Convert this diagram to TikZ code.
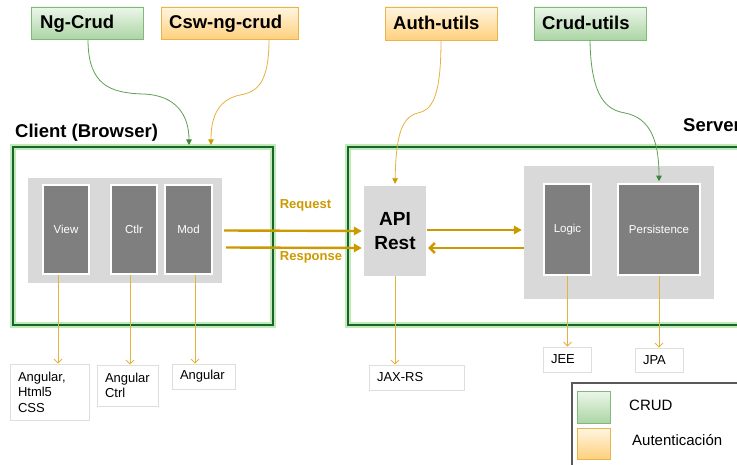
\documentclass[tikz,border=0pt]{standalone}
\usepackage{fontspec}
\setmainfont{Liberation Sans}
\usetikzlibrary{arrows.meta}
\definecolor{crudtop}{RGB}{236,246,234}
\definecolor{crudbot}{RGB}{172,213,165}
\definecolor{crudborder}{RGB}{128,186,122}
\definecolor{authtop}{RGB}{255,246,226}
\definecolor{authbot}{RGB}{255,208,125}
\definecolor{authborder}{RGB}{232,180,76}
\definecolor{zonegreen}{RGB}{22,102,42}
\definecolor{glowgreen}{RGB}{194,234,184}
\definecolor{panelgray}{RGB}{217,217,217}
\definecolor{layergray}{RGB}{127,127,127}
\definecolor{techborder}{RGB}{222,222,222}
\definecolor{gold}{RGB}{204,153,0}
\definecolor{thinorange}{RGB}{228,178,62}
\definecolor{curvegreen}{RGB}{96,160,84}
\definecolor{tipgreen}{RGB}{60,135,55}
\definecolor{legendgray}{RGB}{90,90,90}
\begin{document}
\begin{tikzpicture}[x=1pt,y=-1pt,
  tag/.style={line width=0.8pt, font=\fontsize{18.5}{22}\selectfont\bfseries, inner xsep=8pt, inner ysep=0pt,
    text height=13.5pt, text depth=3.5pt},
  crudtag/.style={tag, draw=crudborder, top color=crudtop, bottom color=crudbot},
  authtag/.style={tag, draw=authborder, top color=authtop, bottom color=authbot},
  zone/.style={draw=zonegreen, line width=2.6pt, preaction={draw=glowgreen, line width=6pt}},
  panel/.style={fill=panelgray, draw=none, inner sep=0pt},
  layer/.style={fill=layergray, draw=white, line width=1.5pt, text=white, inner sep=0pt,
    font=\fontsize{11.5}{13}\selectfont},
  tech/.style={draw=techborder, line width=0.8pt, align=left, inner xsep=8pt, inner ysep=0pt,
    font=\fontsize{13}{15.5}\selectfont},
  thinarrow/.style={draw=thinorange, line width=0.8pt, -{Straight Barb[length=4pt,width=8pt]}},
  greencurve/.style={draw=curvegreen, line width=0.8pt, -{Triangle[length=5.5pt,width=5.5pt,color=tipgreen]}},
  orangecurve/.style={draw=thinorange, line width=0.8pt, -{Triangle[length=5.5pt,width=5.5pt,color=gold]}},
  flow/.style={draw=gold, line width=2.4pt, -{Triangle[length=8pt,width=8.5pt]}},
  flowback/.style={draw=gold, line width=2.4pt, -{Straight Barb[length=5pt,width=10pt]}},
  flowlabel/.style={text=gold, font=\fontsize{13}{15}\selectfont\bfseries, inner sep=0pt},
  zonelabel/.style={font=\fontsize{18.5}{22}\selectfont\bfseries, inner sep=0pt}
]
\useasboundingbox (0,0) rectangle (737,465);

% top tags
\node[crudtag, minimum width=112pt, minimum height=32pt] (ngcrud) at (87,23) {};
\node[anchor=base west, font=\fontsize{18.5}{22}\selectfont\bfseries, inner sep=0pt] (ngcrudtxt) at (40,29) {Ng-Crud};
\node[authtag, minimum width=137pt, minimum height=32pt] (csw) at (229.5,23) {};
\node[anchor=base west, font=\fontsize{18.5}{22}\selectfont\bfseries, inner sep=0pt] (cswtxt) at (169,29) {Csw-ng-crud};
\node[authtag, minimum width=112pt, minimum height=33pt] (auth) at (441,23.5) {};
\node[anchor=base west, font=\fontsize{18.5}{22}\selectfont\bfseries, inner sep=0pt] (authtxt) at (393,30) {Auth-utils};
\node[crudtag, minimum width=112pt, minimum height=33pt] (crudu) at (590,23.5) {};
\node[anchor=base west, font=\fontsize{18.5}{22}\selectfont\bfseries, inner sep=0pt] (crudutxt) at (542,30) {Crud-utils};

% zone labels
\node[zonelabel, anchor=base west] (clientlbl) at (15,138) {Client (Browser)};
\node[zonelabel, anchor=base west] (serverlbl) at (683,132) {Server};

% zones
\node[zone, minimum width=260pt, minimum height=178pt, inner sep=0pt] (client) at (143,236) {};
\node[zone, minimum width=412pt, minimum height=178pt, inner sep=0pt] (server) at (554,236) {};

% client panel
\node[panel, minimum width=194pt, minimum height=105pt] (cpanel) at (125,230.5) {};
\node[layer, minimum width=46pt, minimum height=89pt] (view) at (66,229.5) {View};
\node[layer, minimum width=46pt, minimum height=89pt] (ctlr) at (134,229.5) {Ctlr};
\node[layer, minimum width=47pt, minimum height=89pt] (mod) at (188.5,229.5) {Mod};

% API
\node[panel, minimum width=62pt, minimum height=90pt, align=center,
  font=\fontsize{19}{24}\selectfont\bfseries] (api) at (395,231) {API\\Rest};

% server panel
\node[panel, minimum width=190pt, minimum height=133pt] (spanel) at (619,232.5) {};
\node[layer, minimum width=47pt, minimum height=91pt] (logic) at (567.5,229.5) {Logic};
\node[layer, minimum width=82pt, minimum height=91pt] (persist) at (659,229.5) {Persistence};

% tech boxes
\node[tech, text width=63pt, minimum height=56pt] (techview) at (49.5,392) {Angular,\\Html5\\CSS};
\node[tech, text width=45pt, minimum height=41pt] (techctlr) at (127.5,385.5) {Angular\\Ctrl};
\node[tech, text width=47pt, minimum height=25pt] (techmod) at (203.5,376.5) {Angular};
\node[tech, text width=79pt, minimum height=25pt] (techapi) at (416.5,377.5) {JAX-RS};
\node[tech, text width=32pt, minimum height=25pt] (techlogic) at (567,359.5) {JEE};
\node[tech, text width=32pt, minimum height=24pt] (techpers) at (659,360) {JPA};

% legend
\node[draw=legendgray, line width=1.8pt, minimum width=190pt, minimum height=100pt, inner sep=0pt, anchor=north west] (legend) at (571,382) {};
\node[crudtag, minimum width=33pt, minimum height=32pt, inner sep=0pt] (legcrud) at (593.5,407) {};
\node[authtag, minimum width=33pt, minimum height=31pt, inner sep=0pt] (legauth) at (593.5,443.5) {};
\node[anchor=west, inner sep=0pt, font=\fontsize{15}{17}\selectfont] (legcrudtxt) at (629,405) {CRUD};
\node[anchor=west, inner sep=0pt, font=\fontsize{15}{17}\selectfont] (legauthtxt) at (632,440) {Autenticación};

% flow labels
\node[flowlabel] (reqlbl) at (305.5,205) {Request};
\node[flowlabel] (resplbl) at (311,257) {Response};

% curved dependencies
\coordinate (ngin) at (189,145);
\coordinate (cswin) at (211,145);
\draw[greencurve] (ngcrud.south -| 88,0) .. controls (88,85) and (110,93) .. (143,94) .. controls (176,95) and (189,115) .. (ngin);
\draw[orangecurve] (csw.south -| 269,0) .. controls (269,85) and (256,92) .. (240,95) .. controls (216,100) and (211,120) .. (cswin);
\draw[orangecurve] (auth.south) .. controls (441,100) and (431,110) .. (418,113) .. controls (400,117) and (396,140) .. ([yshift=2pt]api.north);
\draw[greencurve] (crudu.south) .. controls (591,100) and (608,110) .. (625,113) .. controls (650,118) and (659,140) .. ([yshift=2pt]persist.north);

% thin arrows to technologies
\draw[thinarrow] ([xshift=-8pt]view.south) -- ([xshift=-8pt]view.south |- techview.north);
\draw[thinarrow] ([xshift=-4pt]ctlr.south) -- ([xshift=-4pt]ctlr.south |- techctlr.north);
\draw[thinarrow] ([xshift=6.5pt]mod.south) -- ([xshift=6.5pt]mod.south |- techmod.north);
\draw[thinarrow] (api.south) -- (api.south |- techapi.north);
\draw[thinarrow] (logic.south) -- (logic.south |- techlogic.north);
\draw[thinarrow] (persist.south) -- (persist.south |- techpers.north);

% request / response flows
\draw[flow] ([xshift=2pt]cpanel.east) -- ([xshift=-2pt]api.west);
\draw[flow] ([xshift=4pt,yshift=-17pt]cpanel.east) -- ([xshift=-2pt,yshift=-17pt]api.west);
\draw[flow] ([xshift=1pt,yshift=1pt]api.east) -- ([xshift=-2pt,yshift=2.5pt]spanel.west);
\draw[flowback] ([yshift=-15.5pt]spanel.west) -- ([xshift=2pt,yshift=-17pt]api.east);
\end{tikzpicture}
\end{document}
